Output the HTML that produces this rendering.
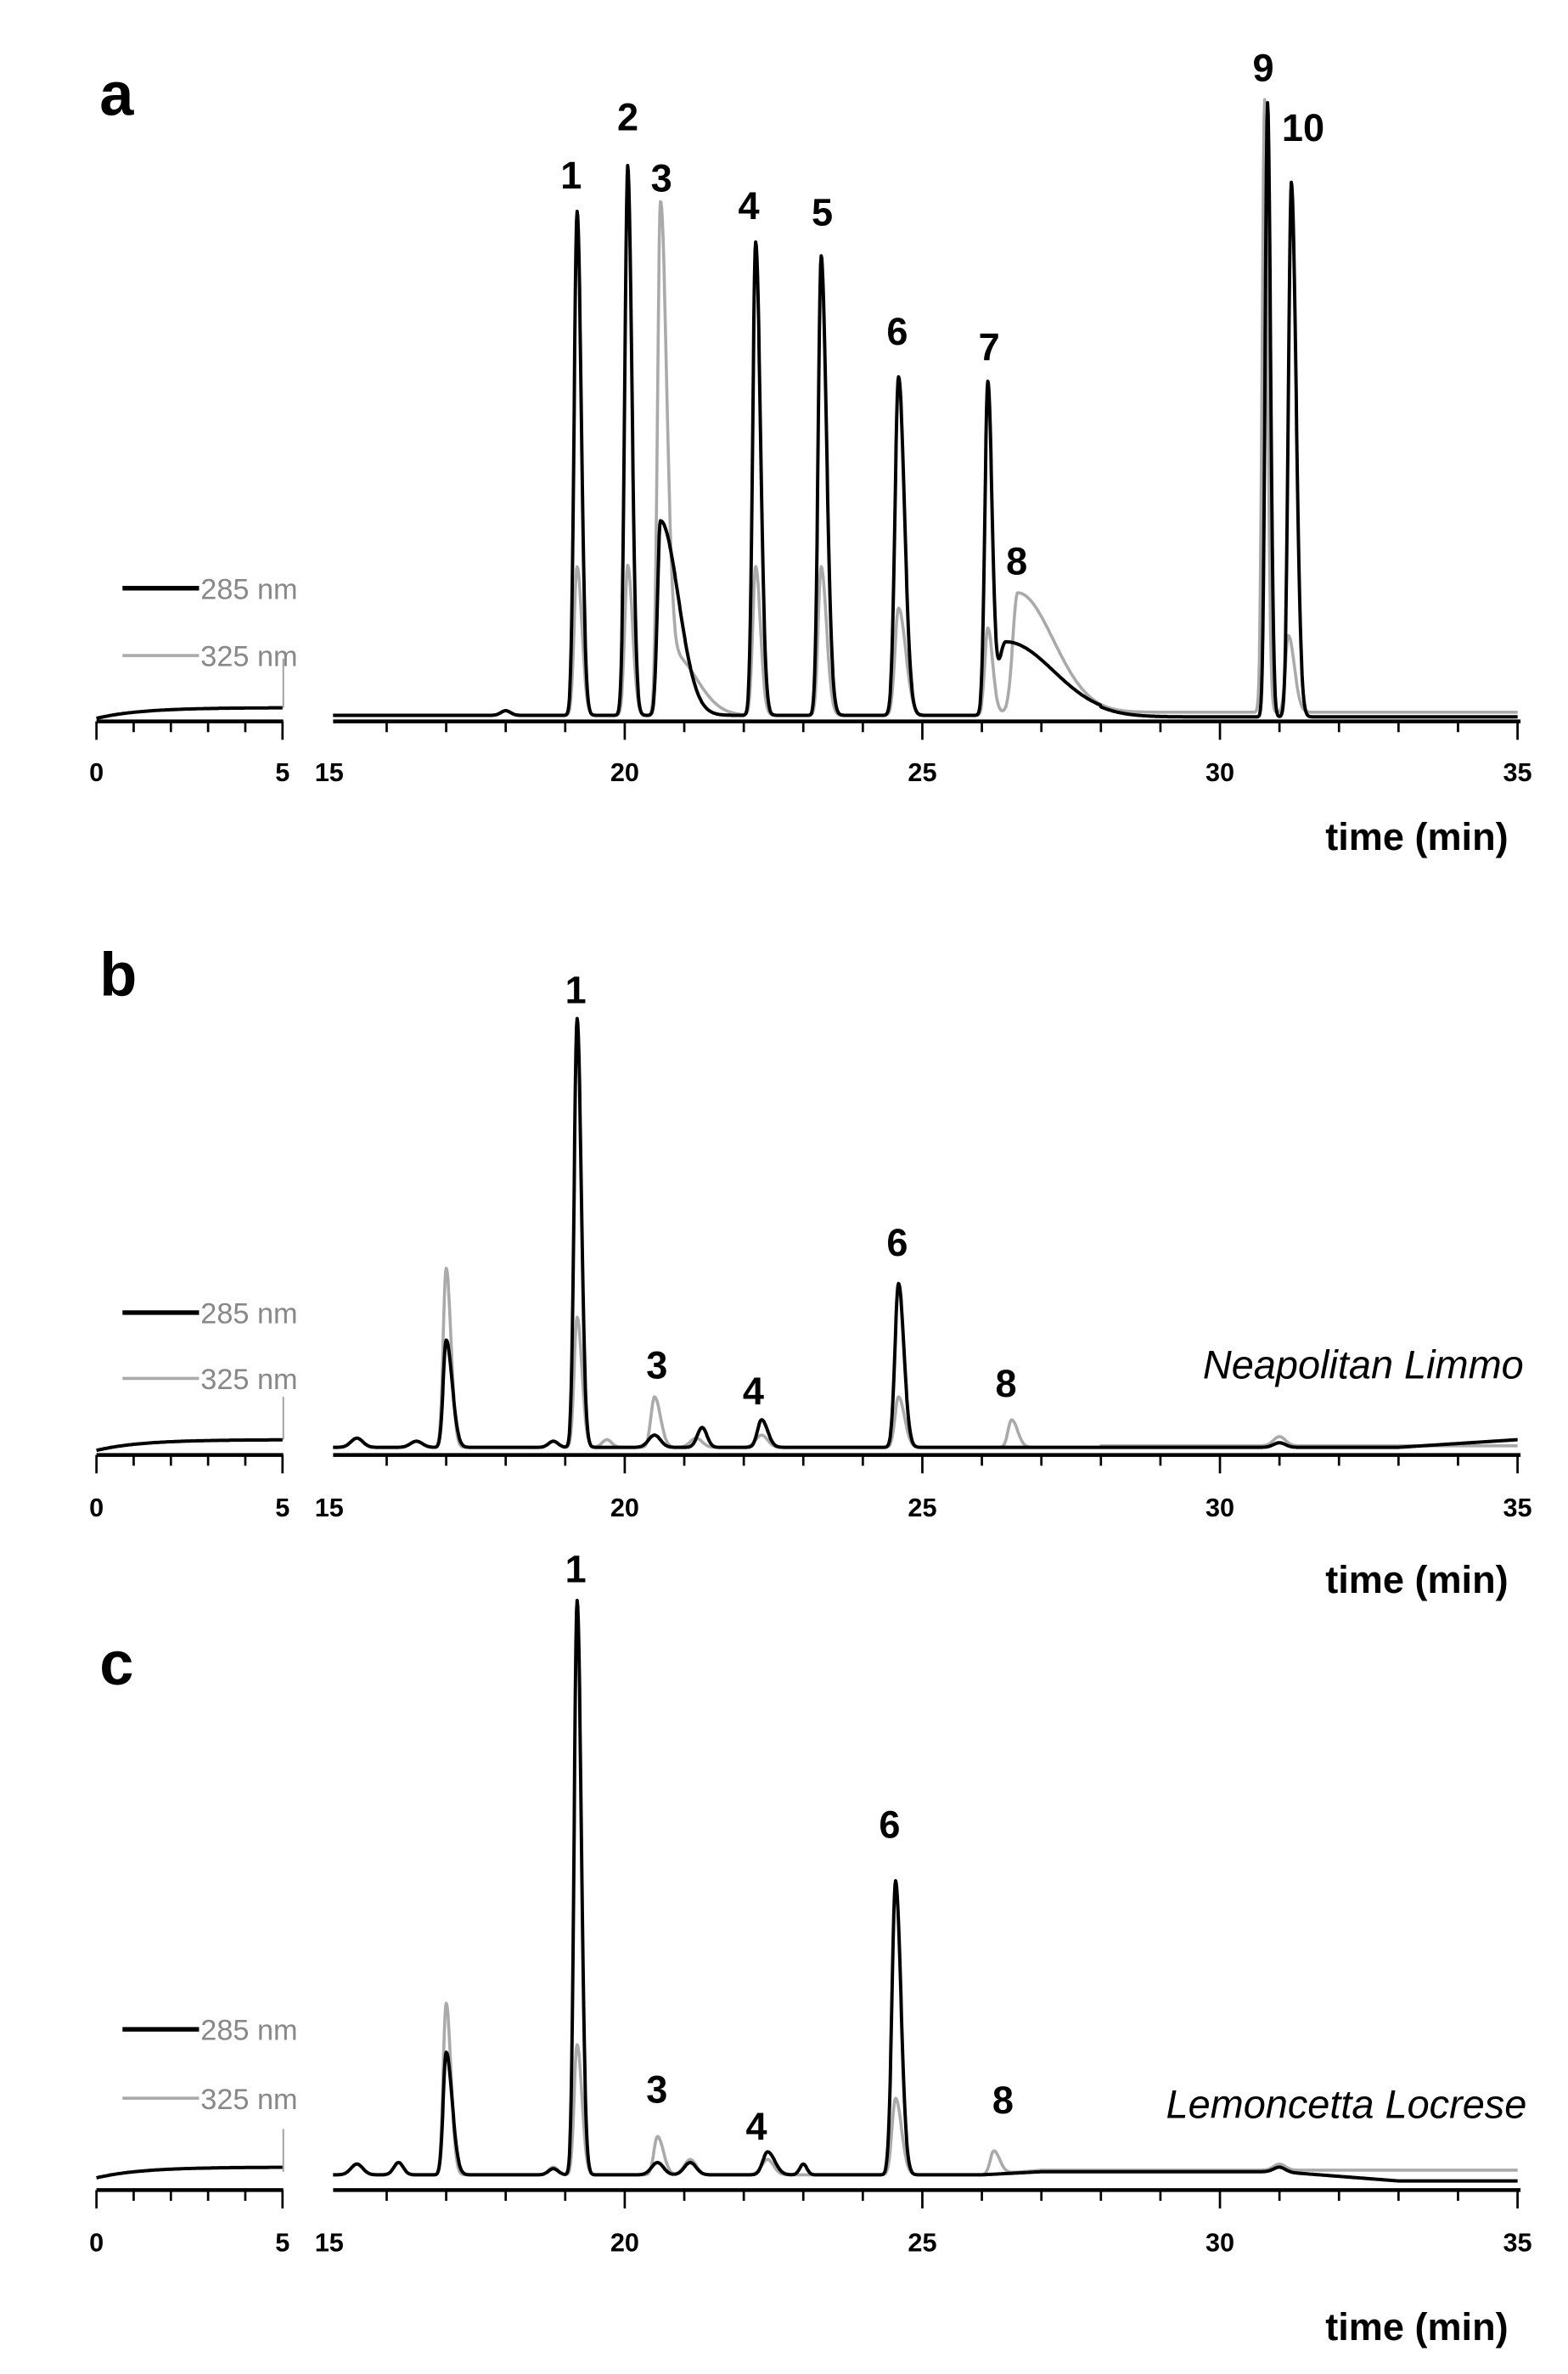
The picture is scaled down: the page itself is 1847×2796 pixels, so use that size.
<!DOCTYPE html>
<html><head><meta charset="utf-8"><style>
html,body{margin:0;padding:0;background:#fff}
svg{display:block}
text{font-family:"Liberation Sans",sans-serif}
</style></head><body>
<svg id="s" width="1847" height="2796" viewBox="0 0 1024 1550" xmlns="http://www.w3.org/2000/svg">
<text x="65" y="75" font-size="40" font-weight="bold">a</text>
<text x="65" y="650" font-size="40" font-weight="bold">b</text>
<text x="65" y="1100" font-size="40" font-weight="bold">c</text>
<g font-size="25" font-weight="bold" text-anchor="middle">
<text x="373" y="123">1</text><text x="410" y="85">2</text><text x="432" y="125">3</text>
<text x="489" y="143">4</text><text x="537" y="147">5</text><text x="586" y="225">6</text>
<text x="646" y="235">7</text><text x="664" y="375">8</text><text x="825" y="53">9</text><text x="851" y="92">10</text>
<text x="376" y="655">1</text><text x="429" y="900">3</text><text x="492" y="917">4</text><text x="586" y="820">6</text><text x="657" y="912">8</text>
<text x="376" y="1033">1</text><text x="429" y="1373">3</text><text x="494" y="1397">4</text><text x="581" y="1200">6</text><text x="655" y="1380">8</text>
</g>
<g font-size="26" font-style="italic" text-anchor="end">
<text x="995" y="900">Neapolitan Limmo</text>
<text x="997" y="1383">Lemoncetta Locrese</text>
</g>
<g id="g"></g>
</svg>
<script>
var g=document.getElementById('g'),NS='http://www.w3.org/2000/svg';
function el(t,a){var e=document.createElementNS(NS,t);for(var k in a)e.setAttribute(k,a[k]);g.appendChild(e);return e;}
function X(t){return t<=5?63+t*24.3:408+(t-20)*38.87;}
function sig(t,pk){var s=0;for(var i=0;i<pk.length;i++){var p=pk[i],d=t-p[0],w=p[2];if(d>0&&p[3])w=p[3];s+=p[1]*Math.exp(-d*d/(2*w*w));}return s;}
function trace(yb,pk,col,sw,drift){var d='';
 for(var t=0;t<=5;t+=0.05){var y=yb+2-7*(1-Math.exp(-t/1.2));d+=(t==0?'M':'L')+X(t).toFixed(1)+','+y.toFixed(1);}
 el('path',{d:d,fill:'none',stroke:col,'stroke-width':sw});d='';
 for(var t=15.1;t<=35.001;t+=0.01){var y=yb-sig(t,pk)+(drift?drift(t):0);d+=(d==''?'M':'L')+X(t).toFixed(1)+','+y.toFixed(1);}
 el('path',{d:d,fill:'none',stroke:col,'stroke-width':sw,'stroke-linejoin':'round'});}
function axis(y,ty,tmy){
 el('line',{x1:63,y1:y,x2:185,y2:y,stroke:'#000','stroke-width':2.5});
 el('line',{x1:X(15.1),y1:y,x2:993,y2:y,stroke:'#000','stroke-width':2.5});
 for(var t=0;t<=35;t++){if(t>5&&t<16)continue;var L=(t%5==0)?12:7;el('line',{x1:X(t),y1:y,x2:X(t),y2:y+L,stroke:'#000','stroke-width':1.5});}
 var labs=[[0,'0'],[5,'5'],[20,'20'],[25,'25'],[30,'30'],[35,'35']];
 labs.forEach(function(l){var e=el('text',{x:X(l[0]),y:ty,'font-size':17,'font-weight':'bold','text-anchor':'middle'});e.textContent=l[1];});
 var e=el('text',{x:215,y:ty,'font-size':17,'font-weight':'bold','text-anchor':'middle'});e.textContent='15';
 e=el('text',{x:985,y:tmy,'font-size':25,'font-weight':'bold','text-anchor':'end'});e.textContent='time (min)';}
function legend(y1,y2){
 el('line',{x1:80,y1:y1,x2:130,y2:y1,stroke:'#000','stroke-width':3});
 el('line',{x1:80,y1:y2,x2:130,y2:y2,stroke:'#aaa','stroke-width':2});
 var e=el('text',{x:131,y:y1+7,'font-size':19,fill:'#888'});e.textContent='285 nm';
 e=el('text',{x:131,y:y2+7,'font-size':19,fill:'#888'});e.textContent='325 nm';}
// panel a
var ya=467;
trace(ya,[[18.0,3,0.08],[19.2,97,0.05,0.08],[20.05,98,0.05,0.08],[20.6,330,0.05,0.1],[20.8,40,0.1,0.4],[22.2,97,0.05,0.08],[23.3,97,0.05,0.09],[24.6,70,0.06,0.12],[26.1,55,0.05,0.08],[26.6,78,0.08,0.6],[30.75,400,0.04,0.05],[31.15,50,0.05,0.1]],'#aaa',2,function(t){return t>26?-2:0;});
trace(ya,[[18.0,3,0.08],[19.2,329,0.05,0.07],[20.05,359,0.05,0.07],[20.6,127,0.05,0.3],[22.2,309,0.05,0.08],[23.3,300,0.05,0.09],[24.6,221,0.06,0.1],[26.1,216,0.05,0.07],[26.4,48,0.12,0.8],[30.8,401,0.04,0.05],[31.2,349,0.05,0.08]],'#000',2.2,function(t){return t>28?1:0;});
el('line',{x1:185,y1:430,x2:185,y2:462,stroke:'#999','stroke-width':1});
axis(471,510,555);legend(384,428);
// panel b
var yb=945;
trace(yb,[[15.5,6,0.1],[16.5,4,0.1],[17.0,117,0.05,0.08],[18.8,4,0.08],[19.2,85,0.05,0.08],[19.7,5,0.08],[20.5,33,0.06,0.1],[21.2,6,0.1],[22.3,8,0.1],[24.6,33,0.06,0.1],[26.5,18,0.06,0.1],[31.0,6,0.1]],'#aaa',2,function(t){return t>28?-1:0;});
trace(yb,[[15.5,6,0.1],[16.5,4,0.1],[17.0,70,0.05,0.1],[18.8,4,0.08],[19.2,280,0.05,0.07],[20.5,8,0.1],[21.3,13,0.08],[22.3,18,0.07,0.1],[24.6,107,0.06,0.09],[31.0,3,0.1]],'#000',2.2,function(t){return t>33?-(t-33)*2.5:0;});
el('line',{x1:185,y1:912,x2:185,y2:940,stroke:'#999','stroke-width':1});
axis(950,990,1040);legend(857,900);
// panel c
var yc=1420;
trace(yc,[[15.5,7,0.1],[16.2,8,0.08],[17.0,112,0.05,0.08],[18.8,5,0.08],[19.2,85,0.05,0.08],[20.55,25,0.06,0.1],[21.1,10,0.1],[22.4,10,0.1],[24.55,50,0.06,0.1],[26.2,15,0.06,0.1],[31.0,4,0.1]],'#aaa',2,function(t){return t>26?-3*Math.min(1,(t-26)):0;});
trace(yc,[[15.5,7,0.1],[16.2,8,0.08],[17.0,80,0.05,0.1],[18.8,4,0.08],[19.2,375,0.05,0.07],[20.55,8,0.1],[21.1,8,0.1],[22.4,15,0.08,0.12],[23.0,7,0.06],[24.55,192,0.06,0.09],[31.0,3,0.1]],'#000',2.2,function(t){var d=t>26?-2*Math.min(1,(t-26)):0;if(t>31)d+=Math.min(t-31,2)*3;return d;});
el('line',{x1:185,y1:1390,x2:185,y2:1418,stroke:'#999','stroke-width':1});
axis(1430,1470,1528);legend(1325,1370);
</script>
</body></html>
